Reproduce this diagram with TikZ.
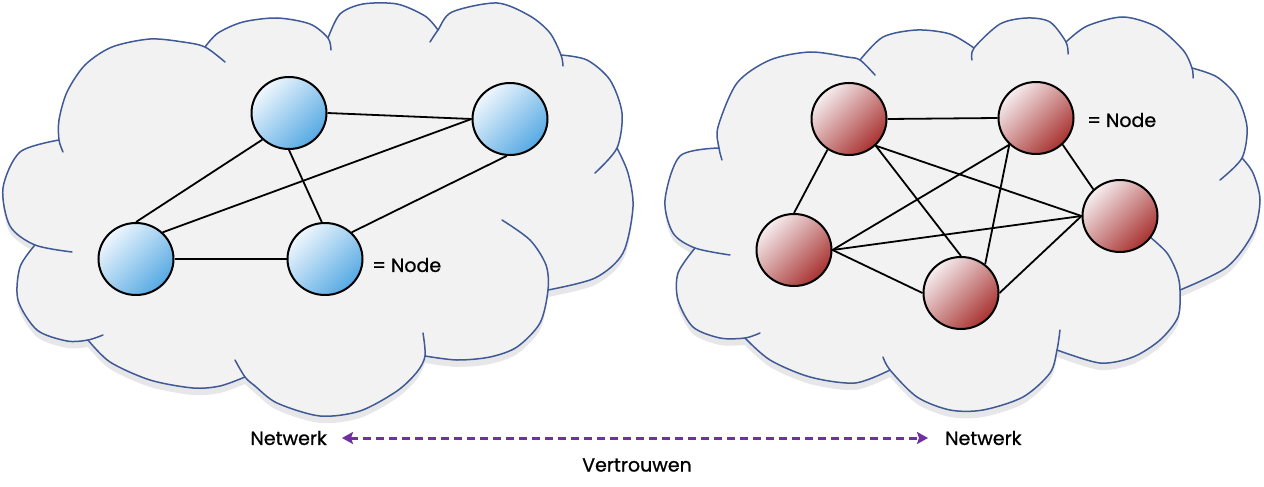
\documentclass[tikz,border=0pt]{standalone}
\usepackage{fontspec}
\setmainfont{Poppins}
\newfontfamily\medfont{Poppins}[FakeBold=0.9]
\usetikzlibrary{shapes.geometric,arrows.meta}
\definecolor{cloudfill}{HTML}{F2F2F2}
\definecolor{cloudline}{HTML}{3F5A95}
\definecolor{shadowc}{HTML}{E7E7E9}
\definecolor{blueA}{HTML}{F0F7FD}
\definecolor{blueB}{HTML}{55A9E3}
\definecolor{redA}{HTML}{F6EEF0}
\definecolor{redB}{HTML}{A83230}
\definecolor{arrowc}{HTML}{7030A0}
\tikzset{
  bump/.style={draw=cloudline, line width=1.5pt, line cap=round},
  netnode/.style={ellipse, draw=black, line width=2pt, minimum width=75pt, minimum height=72pt, inner sep=0pt},
  bnode/.style={netnode, top color=blueA, bottom color=blueB, shading angle=45},
  rnode/.style={netnode, top color=redA, bottom color=redB, shading angle=45},
  edge/.style={draw=black, line width=1.8pt},
  lbl/.style={inner sep=0pt, font=\medfont\fontsize{19}{22}\selectfont},
  trust/.style={draw=arrowc, line width=3pt, dash pattern=on 8pt off 5pt,
    {Stealth[length=11pt,width=12pt,inset=2pt]}-{Stealth[length=11pt,width=12pt,inset=2pt]}}
}
\begin{document}
\begin{tikzpicture}[x=1pt,y=-1pt]
\useasboundingbox (0,0) rectangle (1264,487);
% ---------- left cloud ----------
\path[save path=\leftcloud]
  plot[smooth] coordinates {(35,245) (10,226) (3,188) (20,152) (59,140)}
  -- plot[smooth] coordinates {(59,140) (59,120) (67,92) (85,65) (112,47) (150,39) (183,42) (205,47)}
  -- plot[smooth] coordinates {(205,47) (218,33) (243,22) (277,18) (310,24) (328,38)}
  -- plot[smooth] coordinates {(328,38) (340,14) (363,4) (397,4) (425,16) (438,30)}
  -- plot[smooth] coordinates {(438,30) (452,12) (497,3) (530,16) (550,33) (561,55)}
  -- plot[smooth] coordinates {(561,55) (587,60) (610,80) (622,113) (617,148)}
  -- plot[smooth] coordinates {(617,148) (628,173) (633,207) (623,253) (595,278) (548,290)}
  -- plot[smooth] coordinates {(548,290) (540,323) (517,347) (490,357) (457,360) (425,356)}
  -- plot[smooth] coordinates {(425,356) (417,372) (397,391) (360,411) (320,416) (277,403) (255,386) (245,377)}
  -- plot[smooth] coordinates {(245,377) (220,386) (193,388) (150,380) (110,362) (88,340)}
  -- plot[smooth] coordinates {(88,340) (67,341) (37,330) (18,300) (20,267) (35,245)}
  -- cycle;
\begin{scope}[transform canvas={shift={(0pt,-7pt)}}]
  \fill[shadowc, use path=\leftcloud];
\end{scope}
\fill[cloudfill, use path=\leftcloud];
\draw[bump] plot[smooth] coordinates {(72,252) (35,245) (10,226) (3,188) (20,152) (59,140)};
\draw[bump] plot[smooth] coordinates {(63,152) (59,140) (59,120) (67,92) (85,65) (112,47) (150,39) (183,42) (205,47) (225,62)};
\draw[bump] plot[smooth] coordinates {(205,47) (218,33) (243,22) (277,18) (310,24) (328,38) (331,50)};
\draw[bump] plot[smooth] coordinates {(328,38) (340,14) (363,4) (397,4) (425,16) (438,30)};
\draw[bump] plot[smooth] coordinates {(430,42) (438,30) (452,12) (497,3) (530,16) (550,33) (561,55) (563,66)};
\draw[bump] plot[smooth] coordinates {(561,55) (587,60) (610,80) (622,113) (617,148) (595,173)};
\draw[bump] plot[smooth] coordinates {(617,148) (628,173) (633,207) (623,253) (595,278) (548,290)};
\draw[bump] plot[smooth] coordinates {(502,220) (530,240) (546,265) (548,290) (540,323) (517,347) (490,357) (457,360) (425,356)};
\draw[bump] plot[smooth] coordinates {(423,333) (425,356) (417,372) (397,391) (360,411) (320,416) (277,403) (255,386) (245,377) (235,360)};
\draw[bump] plot[smooth] coordinates {(245,377) (220,386) (193,388) (150,380) (110,362) (88,340)};
\draw[bump] plot[smooth] coordinates {(103,335) (88,340) (67,341) (37,330) (18,300) (20,267) (35,245)};
% ---------- right cloud ----------
\path[save path=\rightcloud]
  plot[smooth] coordinates {(695,248) (673,233) (665,200) (680,156) (719,148)}
  -- plot[smooth] coordinates {(719,148) (718,127) (737,83) (770,60) (810,52) (847,57) (860,60)}
  -- plot[smooth] coordinates {(860,60) (883,37) (917,30) (950,34) (974,48)}
  -- plot[smooth] coordinates {(974,48) (1000,24) (1027,18) (1050,22) (1066,42)}
  -- plot[smooth] coordinates {(1066,42) (1087,26) (1123,17) (1157,27) (1183,50) (1192,68)}
  -- plot[smooth] coordinates {(1192,68) (1217,77) (1237,97) (1247,127) (1242,158)}
  -- plot[smooth] coordinates {(1242,158) (1253,173) (1260,200) (1253,233) (1227,267) (1180,290)}
  -- plot[smooth] coordinates {(1180,290) (1178,317) (1160,340) (1133,357) (1100,363) (1057,350)}
  -- plot[smooth] coordinates {(1057,350) (1050,373) (1023,397) (983,410) (950,410) (917,397) (890,370)}
  -- plot[smooth] coordinates {(890,370) (855,383) (810,377) (770,360) (745,338)}
  -- plot[smooth] coordinates {(745,338) (720,338) (693,327) (678,300) (678,273) (695,248)}
  -- cycle;
\begin{scope}[transform canvas={shift={(0pt,-7pt)}}]
  \fill[shadowc, use path=\rightcloud];
\end{scope}
\fill[cloudfill, use path=\rightcloud];
\draw[bump] plot[smooth] coordinates {(730,255) (695,248) (673,233) (665,200) (680,156) (719,148)};
\draw[bump] plot[smooth] coordinates {(722,160) (719,148) (718,127) (737,83) (770,60) (810,52) (847,57) (860,60) (875,75)};
\draw[bump] plot[smooth] coordinates {(860,60) (883,37) (917,30) (950,34) (974,48)};
\draw[bump] plot[smooth] coordinates {(972,60) (974,48) (1000,24) (1027,18) (1050,22) (1066,42) (1068,54)};
\draw[bump] plot[smooth] coordinates {(1066,42) (1087,26) (1123,17) (1157,27) (1183,50) (1192,68) (1193,78)};
\draw[bump] plot[smooth] coordinates {(1192,68) (1217,77) (1237,97) (1247,127) (1242,158) (1220,180)};
\draw[bump] plot[smooth] coordinates {(1242,158) (1253,173) (1260,200) (1253,233) (1227,267) (1180,290)};
\draw[bump] plot[smooth] coordinates {(1150,237) (1167,253) (1177,273) (1180,290) (1178,317) (1160,340) (1133,357) (1100,363) (1057,350)};
\draw[bump] plot[smooth] coordinates {(1060,330) (1057,350) (1050,373) (1023,397) (983,410) (950,410) (917,397) (890,370) (883,357)};
\draw[bump] plot[smooth] coordinates {(890,370) (855,383) (810,377) (770,360) (745,338)};
\draw[bump] plot[smooth] coordinates {(760,333) (745,338) (720,338) (693,327) (678,300) (678,273) (695,248)};
% ---------- left network ----------
\node[bnode] (N1) at (289,113) {};
\node[bnode] (N2) at (510,119) {};
\node[bnode] (N3) at (136,259) {};
\node[bnode] (N4) at (325,259) {};
\draw[edge] (N1.east) -- (N2.west);
\draw[edge] (N1.-135) -- (N3.90);
\draw[edge] (N1.-90) -- (N4.95);
\draw[edge] (N2.west) -- (N3.45);
\draw[edge] (N2.-95) -- (N4.45);
\draw[edge] (N3.east) -- (N4.west);
\node[lbl, anchor=west] (legL) at (372,265) {= Node};
% ---------- right network ----------
\node[rnode] (R1) at (849,119) {};
\node[rnode] (R2) at (1036,118) {};
\node[rnode] (R3) at (1120,216) {};
\node[rnode] (R4) at (794,250) {};
\node[rnode] (R5) at (961,293) {};
\draw[edge] (R1.east) -- (R2.west);
\draw[edge] (R1.-125) -- (R4.90);
\draw[edge] (R1.-45) -- (R5.90);
\draw[edge] (R1.-45) -- (R3.west);
\draw[edge] (R2.-135) -- (R4.east);
\draw[edge] (R2.-135) -- (R5.50);
\draw[edge] (R2.-45) -- (R3.135);
\draw[edge] (R4.east) -- (R3.west);
\draw[edge] (R4.east) -- (R5.west);
\draw[edge] (R5.east) -- (R3.west);
\node[lbl, anchor=west] (legR) at (1087,120) {= Node};
% ---------- bottom ----------
\node[lbl, anchor=east] (netL) at (327,438) {Netwerk};
\node[lbl, anchor=west] (netR) at (945,438) {Netwerk};
\draw[trust] ([xshift=15pt]netL.east) -- ([xshift=-17pt]netR.west);
\node[lbl] (trustlbl) at (637,465) {Vertrouwen};
\end{tikzpicture}
\end{document}
